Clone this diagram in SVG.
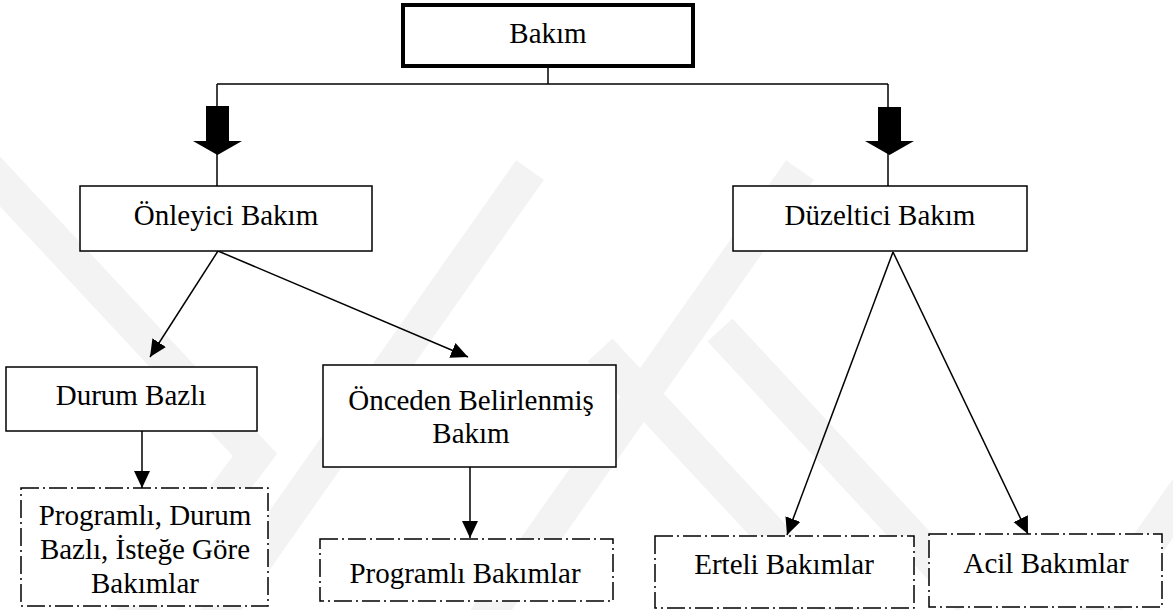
<svg xmlns="http://www.w3.org/2000/svg" width="1173" height="610" viewBox="0 0 1173 610">
<style>
.box{fill:#fff;stroke:#000;stroke-width:1.5}
.main{fill:#fff;stroke:#000;stroke-width:4}
.dash{fill:#fff;stroke:#000;stroke-width:1.5;stroke-dasharray:18 4 2 4}
.ln{fill:none;stroke:#000;stroke-width:1.5}
.t{font-family:"Liberation Serif","Times New Roman",serif;font-size:29px;fill:#000;text-anchor:middle}
.wm{fill:none;stroke:#f3f3f3;stroke-width:34;stroke-linejoin:miter}
</style>
<defs>
<marker id="ah" markerUnits="userSpaceOnUse" markerWidth="20" markerHeight="18" refX="17" refY="8" orient="auto">
<path d="M0,0 L17,8 L0,16 Z" fill="#000"/>
</marker>
</defs>
<rect width="1173" height="610" fill="#fff"/>
<g id="watermark">
<polyline class="wm" points="-20,160 255,455 115,640"/>
<polyline class="wm" points="210,625 530,170"/>
<polyline class="wm" points="470,640 800,170"/>
<polyline class="wm" points="600,350 870,640"/>
<polyline class="wm" points="720,330 970,600"/>
<polyline class="wm" points="1080,640 1200,470"/>
</g>
<g id="connectors">
<line class="ln" x1="548" y1="68" x2="548" y2="84"/>
<line class="ln" x1="217" y1="84" x2="888" y2="84"/>
<line class="ln" x1="217" y1="84" x2="217" y2="186"/>
<line class="ln" x1="888" y1="84" x2="888" y2="186"/>
<polygon points="206,106 229,106 229,141 242,141 217.5,155 193,141 206,141" fill="#000"/>
<polygon points="878,107 901,107 901,141 914,141 889.5,155 865,141 878,141" fill="#000"/>
<line class="ln" x1="218" y1="251" x2="150" y2="357" marker-end="url(#ah)"/>
<line class="ln" x1="218" y1="251" x2="468" y2="357" marker-end="url(#ah)"/>
<line class="ln" x1="142" y1="431" x2="142" y2="488" marker-end="url(#ah)"/>
<line class="ln" x1="470" y1="467" x2="470" y2="538" marker-end="url(#ah)"/>
<line class="ln" x1="893" y1="252" x2="787" y2="535" marker-end="url(#ah)"/>
<line class="ln" x1="893" y1="252" x2="1028" y2="534" marker-end="url(#ah)"/>
</g>
<g id="n-bakim">
<rect class="main" x="403" y="5" width="290" height="61"/>
<text class="t" x="548" y="43">Bakım</text>
</g>
<g id="n-onleyici">
<rect class="box" x="80" y="186" width="292" height="65"/>
<text class="t" x="226" y="225">Önleyici Bakım</text>
</g>
<g id="n-duzeltici">
<rect class="box" x="733" y="186" width="294" height="65"/>
<text class="t" x="880" y="225">Düzeltici Bakım</text>
</g>
<g id="n-durum">
<rect class="box" x="6" y="367" width="251" height="64"/>
<text class="t" x="131" y="405">Durum Bazlı</text>
</g>
<g id="n-onceden">
<rect class="box" x="323" y="365" width="293" height="102"/>
<text class="t" x="471" y="410">Önceden Belirlenmiş</text>
<text class="t" x="471" y="443">Bakım</text>
</g>
<g id="n-prog-durum">
<rect class="dash" x="21" y="488" width="247" height="118"/>
<text class="t" x="145" y="525">Programlı, Durum</text>
<text class="t" x="145" y="559">Bazlı, İsteğe Göre</text>
<text class="t" x="145" y="593">Bakımlar</text>
</g>
<g id="n-prog">
<rect class="dash" x="320" y="539" width="293" height="62"/>
<text class="t" x="465" y="583">Programlı Bakımlar</text>
</g>
<g id="n-erteli">
<rect class="dash" x="655" y="536" width="259" height="72"/>
<text class="t" x="784" y="574">Erteli Bakımlar</text>
</g>
<g id="n-acil">
<rect class="dash" x="929" y="534" width="233" height="73"/>
<text class="t" x="1046" y="573">Acil Bakımlar</text>
</g>
</svg>
